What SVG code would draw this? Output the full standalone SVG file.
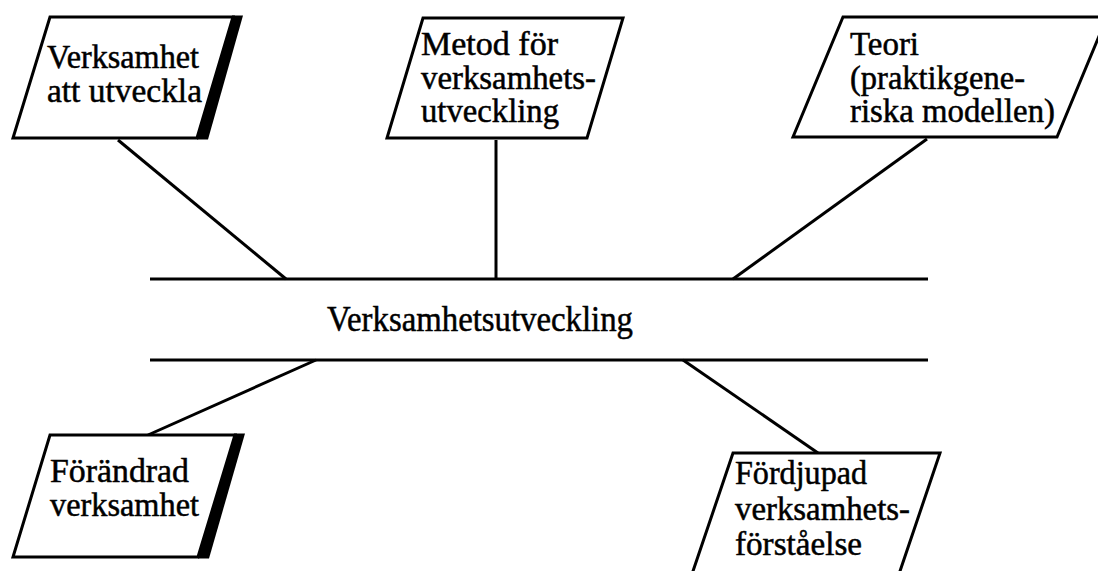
<svg xmlns="http://www.w3.org/2000/svg" width="1098" height="571" viewBox="0 0 1098 571">
  <style>
    .box { fill: #fff; stroke: #000; stroke-width: 3; stroke-linejoin: miter; }
    .shadow { fill: #000; stroke: none; }
    .line { stroke: #000; stroke-width: 3; fill: none; }
    .t { font-family: "Liberation Serif", "Times New Roman", serif; font-size: 33px; fill: #000; stroke: #000; stroke-width: 0.5; }
    .main { font-size: 36px; }
  </style>
  <rect width="1098" height="571" fill="#fff"/>

  <!-- spine and branches -->
  <g id="connectors">
    <line class="line" x1="150" y1="279" x2="928" y2="279"/>
    <line class="line" x1="150" y1="360" x2="928" y2="360"/>
    <line class="line" x1="118" y1="140" x2="286" y2="279"/>
    <line class="line" x1="496" y1="140" x2="496" y2="279"/>
    <line class="line" x1="927" y1="139" x2="733" y2="279"/>
    <line class="line" x1="316" y1="360" x2="148" y2="435"/>
    <line class="line" x1="683" y1="360" x2="818" y2="453"/>
  </g>

  <g id="center">
    <text class="t main" x="327" y="331" textLength="306" lengthAdjust="spacingAndGlyphs">Verksamhetsutveckling</text>
  </g>

  <g id="verksamhet-att-utveckla">
    <polygon class="shadow" points="232,15.5 243,15.5 208,139.5 197,139.5"/>
    <polygon class="box" points="50,17 233,17 197,138 13,138"/>
    <text class="t" x="47" y="67.5" textLength="152" lengthAdjust="spacingAndGlyphs">Verksamhet</text>
    <text class="t" x="47" y="101.5" textLength="155" lengthAdjust="spacingAndGlyphs">att utveckla</text>
  </g>

  <g id="metod">
    <polygon class="box" points="423,18 623,18 587,138 387,138"/>
    <text class="t" x="421" y="54.5" textLength="137" lengthAdjust="spacingAndGlyphs">Metod för</text>
    <text class="t" x="421" y="88.5" textLength="175" lengthAdjust="spacingAndGlyphs">verksamhets-</text>
    <text class="t" x="421" y="121.5" textLength="138" lengthAdjust="spacingAndGlyphs">utveckling</text>
  </g>

  <g id="teori">
    <polygon class="box" points="843,17 1107,17 1057,137 793,137"/>
    <text class="t" x="850" y="54.5" textLength="69" lengthAdjust="spacingAndGlyphs">Teori</text>
    <text class="t" x="850" y="88.5" textLength="175" lengthAdjust="spacingAndGlyphs">(praktikgene-</text>
    <text class="t" x="850" y="121.5" textLength="205" lengthAdjust="spacingAndGlyphs">riska modellen)</text>
  </g>

  <g id="forandrad-verksamhet">
    <polygon class="shadow" points="234,433.5 245,433.5 209,558.5 198,558.5"/>
    <polygon class="box" points="50,435 235,435 198,557 13,557"/>
    <text class="t" x="50" y="481.5" textLength="139" lengthAdjust="spacingAndGlyphs">Förändrad</text>
    <text class="t" x="50" y="515.5" textLength="149" lengthAdjust="spacingAndGlyphs">verksamhet</text>
  </g>

  <g id="fordjupad">
    <polygon class="box" points="733,453 940,453 897,580 690,580"/>
    <text class="t" x="735" y="484" textLength="132" lengthAdjust="spacingAndGlyphs">Fördjupad</text>
    <text class="t" x="735" y="519.5" textLength="175" lengthAdjust="spacingAndGlyphs">verksamhets-</text>
    <text class="t" x="735" y="555" textLength="127" lengthAdjust="spacingAndGlyphs">förståelse</text>
  </g>
</svg>
